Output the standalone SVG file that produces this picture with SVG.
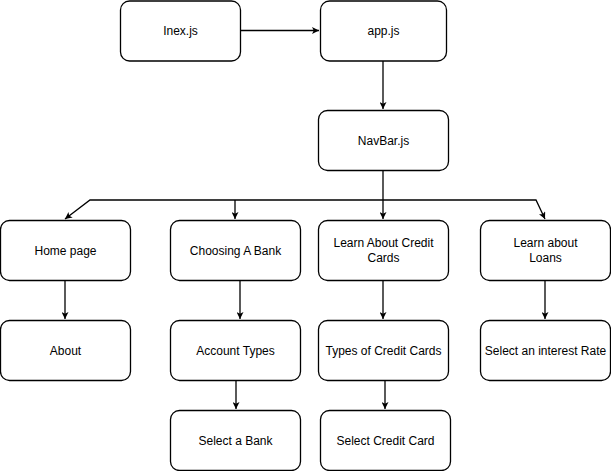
<svg xmlns="http://www.w3.org/2000/svg" width="611" height="471" viewBox="0 0 611 471">
<style>
.n rect{fill:#fff;stroke:#000;stroke-width:1.3}
.n text{font-family:"Liberation Sans",Arial,Helvetica,sans-serif;font-size:12px;fill:#000;text-anchor:middle;dominant-baseline:central}
.c path{fill:none;stroke:#000;stroke-width:1.3}
</style>
<defs>
<marker id="a" viewBox="0 0 10 10" refX="10" refY="5" markerWidth="7" markerHeight="7" markerUnits="userSpaceOnUse" orient="auto">
<path d="M0,0 L10,5 L0,10 L2.5,5 Z" fill="#000"/>
</marker>
</defs>
<rect width="611" height="471" fill="#fff"/>
<g class="c" marker-end="url(#a)">
<path d="M240.5,30.5 H319" marker-end="url(#a)"/>
<path d="M383,61 V109" marker-end="url(#a)"/>
<path d="M383,171 V219" marker-end="url(#a)"/>
<path d="M383,200 H90 L65,219" marker-end="url(#a)"/>
<path d="M235,200 V219" marker-end="url(#a)"/>
<path d="M383,200 H536 L545,219" marker-end="url(#a)"/>
<path d="M65,281 V319" marker-end="url(#a)"/>
<path d="M240,281 V319" marker-end="url(#a)"/>
<path d="M383,281 V319" marker-end="url(#a)"/>
<path d="M545,281 V319" marker-end="url(#a)"/>
<path d="M236,381 V409" marker-end="url(#a)"/>
<path d="M385,381 V409" marker-end="url(#a)"/>
</g>
<g id="inex" class="n"><rect x="120.5" y="1" width="120" height="60" rx="9"/><text x="180.5" y="30.5">Inex.js</text></g>
<g id="app" class="n"><rect x="320.5" y="1" width="126" height="60" rx="9"/><text x="383.5" y="30.5">app.js</text></g>
<g id="navbar" class="n"><rect x="318.5" y="110.5" width="130" height="60" rx="9"/><text x="383.5" y="140.5">NavBar.js</text></g>
<g id="home" class="n"><rect x="0.5" y="220.5" width="130" height="60" rx="9"/><text x="65.5" y="250.5">Home page</text></g>
<g id="bank" class="n"><rect x="170.5" y="220.5" width="130" height="60" rx="9"/><text x="235.5" y="250.5">Choosing A Bank</text></g>
<g id="credit" class="n"><rect x="318.5" y="220.5" width="130" height="60" rx="9"/><text x="383.5" y="243">Learn About Credit</text><text x="383.5" y="258">Cards</text></g>
<g id="loans" class="n"><rect x="480.5" y="220.5" width="130" height="60" rx="9"/><text x="545.5" y="243">Learn about</text><text x="545.5" y="258">Loans</text></g>
<g id="about" class="n"><rect x="0.5" y="320.5" width="130" height="60" rx="9"/><text x="65.5" y="350.5">About</text></g>
<g id="accttypes" class="n"><rect x="170.5" y="320.5" width="130" height="60" rx="9"/><text x="235.5" y="350.5">Account Types</text></g>
<g id="cardtypes" class="n"><rect x="318.5" y="320.5" width="130" height="60" rx="9"/><text x="383.5" y="350.5">Types of Credit Cards</text></g>
<g id="rate" class="n"><rect x="480.5" y="320.5" width="130" height="60" rx="9"/><text x="545.5" y="350.5">Select an interest Rate</text></g>
<g id="selbank" class="n"><rect x="170.5" y="410.5" width="130" height="60" rx="9"/><text x="235.5" y="440.5">Select a Bank</text></g>
<g id="selcard" class="n"><rect x="320.5" y="410.5" width="130" height="60" rx="9"/><text x="385.5" y="440.5">Select Credit Card</text></g>
</svg>
